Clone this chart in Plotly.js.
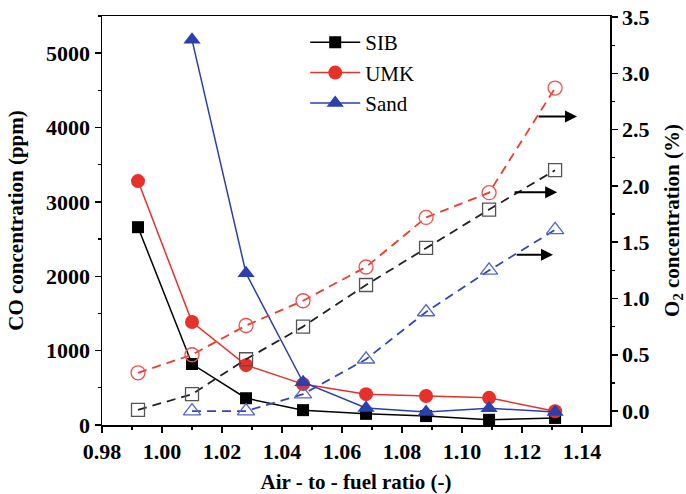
<!DOCTYPE html>
<html>
<head>
<meta charset="utf-8">
<script src="https://cdn.plot.ly/plotly-3.0.1.min.js"></script>
<style>html,body{margin:0;padding:0;background:#fff;}#chart{width:686px;height:494px;}</style>
</head>
<body>
<div id="chart"></div>
<script>
// Air-to-fuel ratio values
const ratioAll = [0.992, 1.010, 1.028, 1.047, 1.068, 1.088, 1.109, 1.131];
const ratioSand = [1.010, 1.028, 1.047, 1.068, 1.088, 1.109, 1.131];

// CO concentration (ppm)
const coSIB  = [2660, 820, 360, 200, 150, 120, 70, 95];
const coUMK  = [3280, 1385, 805, 550, 415, 390, 365, 185];
const coSand = [5180, 2040, 575, 230, 175, 225, 175];

// O2 concentration (%)
const o2SIB  = [0.01, 0.15, 0.46, 0.75, 1.12, 1.45, 1.79, 2.14];
const o2UMK  = [0.34, 0.50, 0.76, 0.98, 1.28, 1.72, 1.94, 2.87];
const o2Sand = [0.00, 0.00, 0.15, 0.46, 0.88, 1.25, 1.61];

// Tick labels
const xTicks = [0.98, 1.00, 1.02, 1.04, 1.06, 1.08, 1.10, 1.12, 1.14];
const yTicks = [0, 1000, 2000, 3000, 4000, 5000];
const y2Ticks = [0.0, 0.5, 1.0, 1.5, 2.0, 2.5, 3.0, 3.5];

const FONT = '"Liberation Serif", "Times New Roman", serif';
const BLACK = '#000000', RED = '#e8302a', BLUE = '#2b3fae';

const traces = [
  {x: ratioAll, y: o2SIB, yaxis: 'y2', mode: 'lines+markers', showlegend: false,
   line: {color: '#222', width: 1.8, dash: '9px,6px'},
   marker: {symbol: 'square-open', size: 13, color: '#555', line: {width: 1.3}}},
  {x: ratioAll, y: o2UMK, yaxis: 'y2', mode: 'lines+markers', showlegend: false,
   line: {color: '#f03a30', width: 1.8, dash: '9px,6px'},
   marker: {symbol: 'circle-open', size: 14, color: '#f05050', line: {width: 1.3}}},
  {x: ratioSand, y: o2Sand, yaxis: 'y2', mode: 'lines+markers', showlegend: false,
   line: {color: '#3347b8', width: 1.8, dash: '9px,6px'},
   marker: {symbol: 'triangle-up-open', size: 15, color: '#5566cc', line: {width: 1.3}}},
  {x: ratioAll, y: coSIB, name: 'SIB', mode: 'lines+markers',
   line: {color: BLACK, width: 1.5},
   marker: {symbol: 'square', size: 12, color: BLACK}},
  {x: ratioAll, y: coUMK, name: 'UMK', mode: 'lines+markers',
   line: {color: RED, width: 1.5},
   marker: {symbol: 'circle', size: 14, color: RED}},
  {x: ratioSand, y: coSand, name: 'Sand', mode: 'lines+markers',
   line: {color: BLUE, width: 1.5},
   marker: {symbol: 'triangle-up', size: 15, color: BLUE}}
];

function arrow(x0, x1, y) {
  return {x: x1, y: y, xref: 'x', yref: 'y2', ax: x0, ay: y, axref: 'x', ayref: 'y2',
          text: '', showarrow: true, arrowhead: 2, arrowsize: 1.2, arrowwidth: 2, arrowcolor: '#000'};
}

const tickFont = {family: FONT, size: 22, color: '#000', weight: 'bold'};
const titleFont = {family: FONT, size: 21, color: '#000', weight: 'bold'};

const layout = {
  width: 686, height: 494,
  margin: {l: 102, r: 76, t: 16, b: 69},
  paper_bgcolor: '#fff', plot_bgcolor: '#fff',
  showlegend: true,
  legend: {x: 0.40, y: 0.985, xanchor: 'left', yanchor: 'top', bgcolor: 'rgba(0,0,0,0)',
           itemwidth: 50,
           font: {family: FONT, size: 21, color: '#000'}, tracegroupgap: 0},
  xaxis: {range: [0.98, 1.1493], tickvals: xTicks, tickformat: '.2f',
          showline: true, linecolor: '#000', linewidth: 1.5, mirror: true,
          ticks: 'outside', ticklen: 6, tickwidth: 1.5, tickcolor: '#000',
          minor: {dtick: 0.01, tick0: 0.98, ticks: 'outside', ticklen: 3, tickwidth: 1.3, tickcolor: '#000'},
          showgrid: false, zeroline: false, tickfont: tickFont,
          title: {text: 'Air - to - fuel ratio (-)', font: titleFont, standoff: 12}},
  yaxis: {range: [0, 5500], tickvals: yTicks, tickformat: 'd',
          showline: true, linecolor: '#000', linewidth: 1.5,
          ticks: 'outside', ticklen: 6, tickwidth: 1.5, tickcolor: '#000',
          minor: {dtick: 500, tick0: 0, ticks: 'outside', ticklen: 3, tickwidth: 1.3, tickcolor: '#000'},
          showgrid: false, zeroline: false, tickfont: tickFont,
          title: {text: 'CO concentration (ppm)', font: titleFont, standoff: 16}},
  yaxis2: {range: [-0.124, 3.51], tickvals: y2Ticks, tickformat: '.1f', overlaying: 'y', side: 'right',
           showline: true, linecolor: '#000', linewidth: 1.5,
           ticks: 'outside', ticklen: 6, tickwidth: 1.5, tickcolor: '#000',
           minor: {dtick: 0.25, tick0: 0, ticks: 'outside', ticklen: 3, tickwidth: 1.3, tickcolor: '#000'},
           showgrid: false, zeroline: false, tickfont: tickFont,
           title: {text: 'O<sub>2</sub> concentration (%)', font: titleFont, standoff: 26}},
  annotations: [
    arrow(1.125, 1.1383, 2.617),
    arrow(1.117, 1.1317, 1.945),
    arrow(1.1177, 1.1303, 1.388)
  ]
};

Plotly.newPlot('chart', traces, layout, {displayModeBar: false, staticPlot: true});
</script>
</body>
</html>
